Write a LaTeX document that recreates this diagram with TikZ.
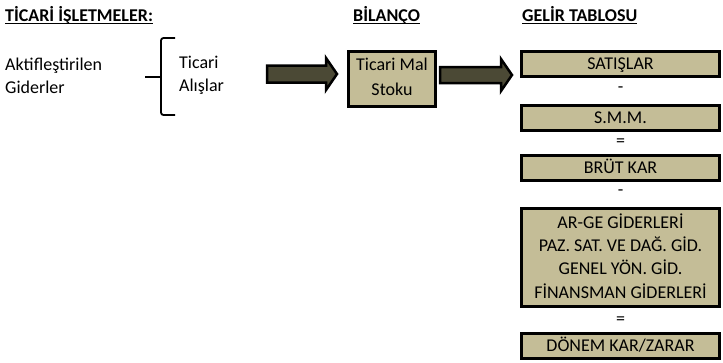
\documentclass[tikz,border=0pt]{standalone}
\usepackage{fontspec}
\setmainfont{Carlito}
\definecolor{boxfill}{HTML}{C4BD97}
\definecolor{arrowfill}{HTML}{4B4935}
\begin{document}
\begin{tikzpicture}[x=1pt,y=-1pt,
  font=\fontsize{18}{23}\selectfont,
  box/.style={draw=black, line width=3pt, fill=boxfill, inner sep=0pt, align=center},
  rowbox/.style={box, minimum width=198pt, minimum height=25pt, text height=11pt, text depth=0pt},
  txt/.style={inner sep=0pt, align=center},
  plain/.style={inner sep=0pt, align=left, anchor=west},
  head/.style={inner sep=0pt, anchor=base west, font=\fontsize{18}{20}\selectfont\bfseries},
  uline/.style={draw=black, line width=1.7pt},
  sign/.style={inner sep=0pt},
  blockarrow/.style={draw=black, line width=2.5pt, fill=arrowfill, line join=miter},
  brace/.style={draw=black, line width=1.8pt, rounded corners=2.5pt}]
\useasboundingbox (0,0) rectangle (723,362);

% headers
\node[head] (h1) at (5,21) {TİCARİ İŞLETMELER:};
\node[head] (h2) at (353,21) {BİLANÇO};
\node[head] (h3) at (522,21) {GELİR TABLOSU};
\foreach \h in {h1,h2,h3}
  \draw[uline] ([yshift=-2.6pt]\h.base west) -- ([yshift=-2.6pt]\h.base east);

% left texts
\node[plain] (akt) at (5,75.5) {Aktifleştirilen\\Giderler};
\node[plain] (tic) at (179,75.5) {Ticari\\Alışlar};

% brace
\coordinate (bt) at (175,38);
\coordinate (bb) at (175,115);
\coordinate (bm) at (145,77);
\draw[brace] (bt) -- (161,38) -- (161,115) -- (bb);
\draw[draw=black, line width=2.6pt] (bm) -- (161,77);

% balance box
\node[box, minimum width=87pt, minimum height=55pt] (stok) at (392,79) {};
\node[txt, font=\fontsize{18}{25}\selectfont] (stoktxt) at (392,76.5) {Ticari Mal\\Stoku};

% income statement column
\node[rowbox] (sat) at (620.5,63.5) {SATIŞLAR};
\node[sign] (s1) at (620.5,90) {-};
\node[rowbox] (smm) at (620.5,117.5) {S.M.M.};
\node[sign] (s2) at (620.5,143) {=};
\node[rowbox] (brut) at (620.5,167.5) {BRÜT KAR};
\node[sign] (s3) at (620.5,193) {-};
\node[box, minimum width=198pt, minimum height=98pt] (gid) at (620.5,257) {};
\node[txt, font=\fontsize{18}{23.3}\selectfont] (gidtxt) at (620.5,256)
  {AR-GE GİDERLERİ\\PAZ. SAT. VE DAĞ. GİD.\\GENEL YÖN. GİD.\\FİNANSMAN GİDERLERİ};
\node[sign] (s4) at (620.5,321) {=};
\node[rowbox] (donem) at (620.5,345.5) {DÖNEM KAR/ZARAR};

% block arrows
\coordinate (a1) at (267,74);
\coordinate (a2) at (440,75);
\draw[blockarrow] (a1) ++(0,-8.5) -- ++(59,0) -- ++(0,-7.5) -- ++(11,16) -- ++(-11,16) -- ++(0,-7.5) -- ++(-59,0) -- cycle;
\draw[blockarrow] (a2) ++(0,-8) -- ++(61,0) -- ++(0,-8) -- ++(11,16) -- ++(-11,16) -- ++(0,-8) -- ++(-61,0) -- cycle;
\end{tikzpicture}
\end{document}
